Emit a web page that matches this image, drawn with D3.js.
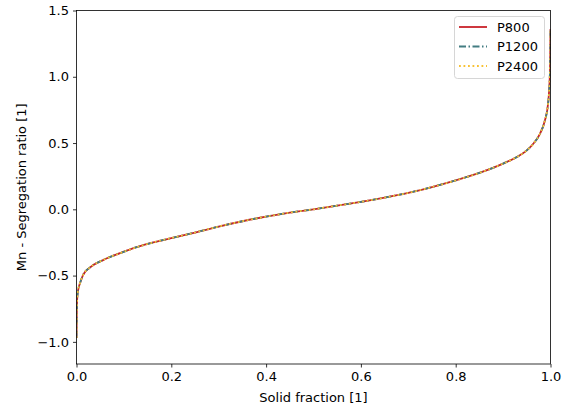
<!DOCTYPE html>
<html>
<head>
<meta charset="utf-8">
<script src="https://cdn.jsdelivr.net/npm/d3@7"></script>
<style>
  html, body { margin: 0; padding: 0; background: #fff; }
  svg { display: block; }
  text { font-family: "DejaVu Sans", sans-serif; fill: #000; }
</style>
</head>
<body>
<svg id="chart" width="569" height="410"></svg>
<script>
// Solid fraction samples along the solidification path
const solidFraction = [0.0, 0.0005, 0.0017, 0.004, 0.0074, 0.014, 0.028, 0.057, 0.092, 0.127, 0.162, 0.2,
  0.25, 0.3, 0.35, 0.4, 0.45, 0.5, 0.55, 0.6, 0.65, 0.7, 0.75, 0.8, 0.85, 0.9, 0.93, 0.95, 0.965,
  0.978, 0.988, 0.995, 0.999, 1.0];

// Mn segregation ratio for each process condition
const ratioP800 = [-0.97, -0.80, -0.66, -0.60, -0.557, -0.495, -0.44, -0.381, -0.331, -0.286, -0.25, -0.217,
  -0.175, -0.13, -0.09, -0.055, -0.025, 0.0, 0.028, 0.056, 0.088, 0.124, 0.168, 0.218, 0.275, 0.345, 0.397, 0.445, 0.50,
  0.572, 0.668, 0.80, 1.05, 1.36];
const ratioP1200 = [-0.97, -0.80, -0.66, -0.60, -0.557, -0.495, -0.44, -0.381, -0.331, -0.286, -0.25, -0.217,
  -0.175, -0.13, -0.09, -0.055, -0.025, 0.0, 0.028, 0.056, 0.088, 0.124, 0.168, 0.218, 0.275, 0.345, 0.397, 0.445, 0.50,
  0.572, 0.668, 0.80, 1.05, 1.36];
const ratioP2400 = [-0.97, -0.80, -0.66, -0.60, -0.557, -0.495, -0.44, -0.381, -0.331, -0.286, -0.25, -0.217,
  -0.175, -0.13, -0.09, -0.055, -0.025, 0.0, 0.028, 0.056, 0.088, 0.124, 0.168, 0.218, 0.275, 0.345, 0.397, 0.445, 0.50,
  0.572, 0.668, 0.80, 1.05, 1.36];

const seriesNames = ["P800", "P1200", "P2400"];
const xTicks = [0.0, 0.2, 0.4, 0.6, 0.8, 1.0];
const yTicks = [-1.0, -0.5, 0.0, 0.5, 1.0, 1.5];

const series = [
  { name: seriesNames[0], values: ratioP800, color: "#c9222a", dash: null, width: 1.8 },
  { name: seriesNames[1], values: ratioP1200, color: "#437d82", dash: "7,2.5,1.5,2.5", width: 1.8 },
  { name: seriesNames[2], values: ratioP2400, color: "#f8c133", dash: "1.8,2.7", width: 1.8 }
];

const svg = d3.select("#chart");
const plot = { left: 76.5, right: 550.5, top: 10.5, bottom: 364 };

const x = d3.scaleLinear().domain([0, 1]).range([plot.left, plot.right]);
const y = d3.scaleLinear().domain([-1.167, 1.5]).range([plot.bottom, plot.top]);

const fmt = d3.format(".1f");

// Curves
const line = d3.line()
  .x(d => x(d[0]))
  .y(d => y(d[1]))
  .curve(d3.curveMonotoneX);

svg.append("clipPath").attr("id", "plotclip")
  .append("rect")
  .attr("x", plot.left).attr("y", plot.top)
  .attr("width", plot.right - plot.left).attr("height", plot.bottom - plot.top);

const curves = svg.append("g").attr("clip-path", "url(#plotclip)");
series.forEach(s => {
  curves.append("path")
    .datum(solidFraction.map((f, i) => [f, s.values[i]]))
    .attr("d", line)
    .attr("fill", "none")
    .attr("stroke", s.color)
    .attr("stroke-width", s.width)
    .attr("stroke-dasharray", s.dash);
});

// Axes
const xAxis = svg.append("g")
  .attr("transform", `translate(0,${plot.bottom})`)
  .call(d3.axisBottom(x).tickValues(xTicks).tickFormat(fmt).tickSize(3.5).tickPadding(4));
const yAxis = svg.append("g")
  .attr("transform", `translate(${plot.left},0)`)
  .call(d3.axisLeft(y).tickValues(yTicks).tickFormat(fmt).tickSize(3.5).tickPadding(4));

[xAxis, yAxis].forEach(g => {
  g.select(".domain").remove();
  g.selectAll(".tick line").attr("stroke", "#000").attr("stroke-width", 0.8);
  g.selectAll(".tick text").attr("font-size", 13).attr("font-family", "DejaVu Sans").attr("fill", "#000");
});

// Frame
svg.append("rect")
  .attr("x", plot.left).attr("y", plot.top)
  .attr("width", plot.right - plot.left).attr("height", plot.bottom - plot.top)
  .attr("fill", "none").attr("stroke", "#000").attr("stroke-width", 0.8);

// Axis labels
svg.append("text")
  .attr("x", (plot.left + plot.right) / 2).attr("y", 402)
  .attr("text-anchor", "middle").attr("font-size", 13)
  .text("Solid fraction [1]");

svg.append("text")
  .attr("transform", `translate(26,${(plot.top + plot.bottom) / 2}) rotate(-90)`)
  .attr("text-anchor", "middle").attr("font-size", 13)
  .text("Mn - Segregation ratio [1]");

// Legend
const legend = svg.append("g");
legend.append("rect")
  .attr("x", 454.5).attr("y", 16.5).attr("width", 90).attr("height", 62).attr("rx", 3)
  .attr("fill", "#fff").attr("fill-opacity", 0.8)
  .attr("stroke", "#d6d6d6").attr("stroke-width", 1);
series.forEach((s, i) => {
  const cy = 27 + i * 19.5;
  legend.append("line")
    .attr("x1", 459).attr("x2", 487).attr("y1", cy).attr("y2", cy)
    .attr("stroke", s.color).attr("stroke-width", s.width)
    .attr("stroke-dasharray", s.dash);
  legend.append("text")
    .attr("x", 497).attr("y", cy).attr("dy", "0.36em")
    .attr("font-size", 13)
    .text(s.name);
});
</script>
</body>
</html>
